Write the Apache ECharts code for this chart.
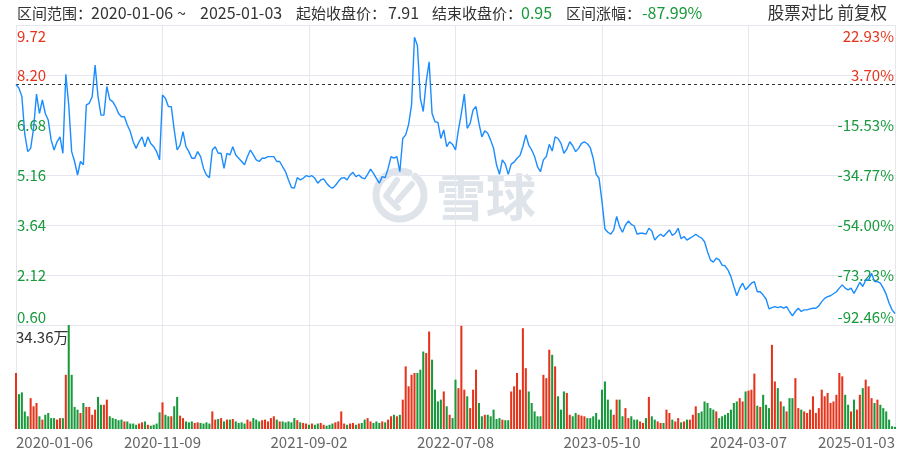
<!DOCTYPE html>
<html><head><meta charset="utf-8">
<script src="https://cdn.jsdelivr.net/npm/echarts@6/dist/echarts.min.js"></script>
<style>html,body{margin:0;padding:0;background:#fff}#c{width:905px;height:457px}</style>
</head><body><div id="c"></div>
<script>
const startPrice = 7.91;
const rangeStart = '2020-01-06';
const rangeEnd = '2025-01-03';
const tickDates = ['2020-01-06','2020-11-09','2021-09-02','2022-07-08','2023-05-10','2024-03-07','2025-01-03'];
const priceTicks = ['0.60','2.12','3.64','5.16','6.68','8.20','9.72'];
const pctTicks = ['-92.46%','-73.23%','-54.00%','-34.77%','-15.53%','3.70%','22.93%'];
const volMaxLabel = '34.36万';
const volMax = 34.36;

const prices = [
7.91,7.80,7.55,6.40,5.87,5.97,6.58,7.62,7.03,7.44,
7.03,6.83,6.22,5.92,6.17,6.32,5.82,8.22,7.29,5.87,
5.57,5.16,5.57,5.47,7.29,7.34,7.54,8.50,7.54,6.98,
6.98,7.85,7.45,7.39,7.24,7.03,6.93,6.93,6.68,6.48,
6.17,5.97,6.17,6.32,6.02,6.32,6.12,6.02,5.87,5.62,
7.59,7.49,7.24,7.24,6.53,5.92,6.07,6.48,6.02,5.87,
5.67,5.67,5.87,5.72,5.36,5.16,5.08,5.92,6.02,5.82,
5.82,5.36,5.82,5.77,6.02,5.77,5.67,5.57,5.47,5.72,
5.92,5.77,5.62,5.57,5.67,5.67,5.72,5.72,5.72,5.57,
5.57,5.41,5.26,5.01,4.78,4.76,5.08,5.01,5.06,5.14,
5.11,5.14,5.06,4.91,5.01,5.04,4.91,4.81,4.76,4.84,
4.96,5.06,5.08,5.01,5.16,5.24,5.11,5.16,5.08,5.04,
5.18,5.34,5.21,5.06,4.91,5.11,5.08,5.36,5.72,5.67,
5.72,5.26,6.27,6.38,6.70,7.29,9.35,9.10,7.49,7.09,
8.00,8.60,7.03,6.78,6.76,6.27,6.53,6.02,6.17,6.09,
5.92,6.53,7.03,7.62,6.58,6.73,7.14,7.24,6.73,6.32,
6.50,6.43,6.22,5.97,5.47,5.18,5.62,5.49,5.18,5.49,
5.55,5.67,5.75,6.02,6.38,6.07,5.92,5.72,5.41,5.26,
5.62,5.72,6.09,5.89,6.32,6.27,6.12,5.82,5.95,6.17,
6.05,5.87,5.97,6.12,6.17,6.11,5.99,5.67,5.18,5.06,
4.35,3.52,3.42,3.36,3.49,3.90,3.59,3.42,3.64,3.76,
3.66,3.61,3.36,3.39,3.39,3.36,3.54,3.46,3.18,3.29,
3.36,3.29,3.39,3.49,3.32,3.39,3.54,3.22,3.29,3.18,
3.24,3.29,3.36,3.29,3.24,3.13,2.83,2.58,2.51,2.63,
2.58,2.42,2.40,2.27,2.07,1.77,1.49,1.72,1.87,1.67,
1.77,1.87,1.92,1.61,1.61,1.51,1.39,1.09,1.13,1.16,
1.13,1.16,1.11,1.16,1.01,0.88,1.01,1.11,1.01,1.06,
1.06,1.09,1.11,1.11,1.18,1.31,1.41,1.46,1.49,1.55,
1.61,1.72,1.82,1.72,1.67,1.72,1.56,1.72,1.90,1.77,
1.97,1.97,2.17,1.92,1.92,1.87,1.72,1.53,1.26,1.06,
0.95
];

const volumes = [
18.5,11.5,12.1,5.8,4.2,10.2,7.5,8.6,4.2,3.1,
4.7,5.3,3.6,3.6,3.1,3.6,3.6,17.9,34.36,17.9,
7.3,6.4,5.3,8.6,7.3,7.3,4.7,6.4,10.6,8.0,
8.0,9.7,4.2,3.6,3.3,2.9,3.1,2.5,2.5,1.8,
1.8,1.4,1.8,2.2,2.5,1.4,1.1,1.4,1.8,5.5,
8.8,4.7,4.2,4.2,7.5,10.6,4.4,3.6,2.5,2.2,
2.5,2.0,2.2,2.0,1.8,2.2,1.8,5.8,3.1,3.3,
3.6,2.5,3.1,3.1,3.3,2.5,2.0,2.2,1.8,3.1,
2.5,3.6,3.1,2.5,2.9,3.1,2.5,3.6,4.2,3.1,
2.5,2.5,2.2,2.5,2.2,3.6,2.9,2.2,2.0,1.8,
1.4,1.8,1.4,1.8,2.0,1.4,1.1,1.4,1.8,2.2,
2.5,5.8,1.8,1.4,1.8,2.0,1.4,1.8,2.0,3.1,
3.6,2.5,2.0,2.5,2.0,2.5,2.2,3.1,4.2,4.7,
4.2,4.7,9.7,20.7,14.1,17.9,18.5,18.5,19.6,25.6,
25.1,32.2,22.9,13.0,9.1,9.7,12.4,7.5,4.7,3.6,
16.3,13.5,34.1,13.0,10.8,6.9,13.0,19.6,8.6,4.2,
4.7,4.7,4.2,6.4,3.3,3.6,3.1,2.9,2.9,12.4,
14.1,18.5,13.0,33.3,20.1,12.4,8.6,5.8,4.2,4.2,
17.9,16.8,26.2,24.5,20.7,10.8,6.4,12.4,11.9,4.7,
4.2,5.3,4.7,4.4,4.2,3.6,3.6,4.2,5.3,3.1,
13.0,15.7,9.7,6.4,4.7,9.7,9.7,4.2,6.9,3.6,
4.2,3.1,3.1,2.5,2.0,3.6,10.6,4.2,3.1,2.5,
2.0,2.0,6.4,5.3,3.1,2.5,3.6,2.2,2.5,3.1,
3.1,4.7,7.5,5.3,5.8,9.1,8.6,6.9,6.4,5.8,
3.6,4.2,4.7,5.3,6.4,8.6,9.1,10.2,9.1,12.4,
12.7,13.0,18.3,7.7,7.3,11.3,8.0,6.9,27.8,15.7,
13.5,9.1,7.5,5.8,10.2,10.2,16.8,6.9,6.4,5.8,
5.3,6.4,10.8,5.3,6.9,13.0,10.8,11.9,8.6,9.1,
11.3,18.5,17.4,11.3,8.0,5.8,9.7,6.4,11.3,13.5,
16.3,14.1,10.2,8.6,9.7,8.0,6.9,5.8,3.1,0.9,
0.7
];

const RED = '#e5341c';
const GREEN = '#17993c';
const BLUE = '#1a8cff';
const GRIDC = '#e6e7ee';
const FONT = '"Noto Sans CJK SC", "Open Sans", sans-serif';
const step = (prices.length - 1) / (tickDates.length - 1);
const cats = prices.map((_, i) => i);
const yMin = parseFloat(priceTicks[0]);
const yMax = parseFloat(priceTicks[priceTicks.length - 1]);
const yInt = parseFloat(priceTicks[1]) - yMin;
const tickIdx = v => Math.round((v - yMin) / yInt);
const endPrice = prices[prices.length - 1];
const changePct = ((endPrice / startPrice - 1) * 100).toFixed(2) + '%';

const volData = volumes.map((v, i) => {
  const prev = i === 0 ? startPrice : prices[i - 1];
  return { value: v, itemStyle: { color: prices[i] >= prev ? RED : GREEN } };
});

const chart = echarts.init(document.getElementById('c'), null, { renderer: 'canvas' });
const headerY = 13;
const txt = (x, text, fill, extra) => Object.assign({
  type: 'text', x: x, y: headerY, z: 10,
  style: Object.assign({ text: text, fill: fill, fontSize: 15, fontFamily: FONT, verticalAlign: 'middle', align: 'left' }, extra || {})
});

chart.setOption({
  animation: false,
  backgroundColor: '#fff',
  grid: [
    { left: 16, right: 10, top: 25, height: 300 },
    { left: 16, right: 10, top: 325, height: 104 }
  ],
  xAxis: [
    { type: 'category', gridIndex: 0, data: cats, boundaryGap: false,
      axisLine: { show: false }, axisTick: { show: false }, axisLabel: { show: false },
      splitLine: { show: true, interval: (i) => i % step === 0, lineStyle: { color: GRIDC, width: 1 } } },
    { type: 'category', gridIndex: 1, data: cats, boundaryGap: false,
      axisLine: { show: false }, axisTick: { show: false },
      axisLabel: { interval: (i) => i % step === 0, formatter: (v, i) => tickDates[Math.round(i / step)],
        color: '#666', fontSize: 15, fontFamily: FONT, margin: 6, alignMinLabel: 'left', alignMaxLabel: 'right' },
      splitLine: { show: true, interval: (i) => i % step === 0, lineStyle: { color: GRIDC, width: 1 } } }
  ],
  yAxis: [
    { type: 'value', gridIndex: 0, position: 'left', min: yMin, max: yMax, interval: yInt,
      axisLine: { show: false }, axisTick: { show: false },
      splitLine: { show: true, lineStyle: { color: GRIDC, width: 1 } },
      axisLabel: { inside: true, margin: 1, fontSize: 15, fontFamily: FONT, padding: [4, 0, 0, 0],
        formatter: v => priceTicks[tickIdx(v)],
        color: v => (v > startPrice ? RED : GREEN),
        verticalAlignMinLabel: 'bottom', verticalAlignMaxLabel: 'top' } },
    { type: 'value', gridIndex: 0, position: 'right', min: yMin, max: yMax, interval: yInt,
      axisLine: { show: false }, axisTick: { show: false }, splitLine: { show: false },
      axisLabel: { inside: true, margin: 1, fontSize: 15, fontFamily: FONT, padding: [4, 0, 0, 0],
        formatter: v => pctTicks[tickIdx(v)],
        color: v => (v > startPrice ? RED : GREEN),
        verticalAlignMinLabel: 'bottom', verticalAlignMaxLabel: 'top' } },
    { type: 'value', gridIndex: 1, min: 0, max: volMax, show: false, splitLine: { show: false } }
  ],
  series: [
    { type: 'line', xAxisIndex: 0, yAxisIndex: 0, data: prices, showSymbol: false, z: 5,
      lineStyle: { color: BLUE, width: 1.4 }, itemStyle: { color: BLUE },
      markLine: { silent: true, symbol: ['none', 'none'], label: { show: false },
        lineStyle: { color: '#333', type: [3, 3], width: 1 },
        data: [{ yAxis: startPrice }] } },
    { type: 'bar', xAxisIndex: 1, yAxisIndex: 2, data: volData, barCategoryGap: '30%' }
  ],
  graphic: [
    txt(17, '区间范围：', '#333'),
    txt(91, rangeStart, '#333', { fontSize: 16 }),
    txt(177, '~', '#333', { fontSize: 16 }),
    txt(200, rangeEnd, '#333', { fontSize: 16 }),
    txt(296, '起始收盘价：', '#333'),
    txt(388, startPrice.toFixed(2), '#333', { fontSize: 16 }),
    txt(432, '结束收盘价：', '#333'),
    txt(521, endPrice.toFixed(2), GREEN, { fontSize: 16 }),
    txt(566, '区间涨幅：', '#333'),
    txt(642, changePct, GREEN, { fontSize: 16 }),
    txt(887, '股票对比 前复权', '#333', { align: 'right', fontSize: 16.5 }),
    { type: 'text', x: 16, y: 337, z: 10, style: { text: volMaxLabel, fill: '#333', fontSize: 15, fontFamily: FONT, verticalAlign: 'middle' } },
    { type: 'group', z: 0, children: [
      { type: 'arc', shape: { cx: 400, cy: 195, r: 24, startAngle: -Math.PI * 0.28, endAngle: Math.PI * 1.62 },
        style: { stroke: '#dfe3ea', lineWidth: 7, fill: null, lineCap: 'round' } },
      { type: 'polyline', shape: { points: [[397, 180], [386, 196], [398, 208]] },
        style: { stroke: '#dfe3ea', lineWidth: 6, fill: null, lineCap: 'round', lineJoin: 'round' } },
      { type: 'polyline', shape: { points: [[412, 184], [398, 200]] },
        style: { stroke: '#dfe3ea', lineWidth: 6, fill: null, lineCap: 'round' } },
      { type: 'text', x: 436, y: 197, style: { text: '雪球', fill: '#dfe3ea', fontSize: 50, fontFamily: FONT, fontWeight: 'bold', verticalAlign: 'middle' } }
    ] }
  ]
});
</script>
</body></html>
